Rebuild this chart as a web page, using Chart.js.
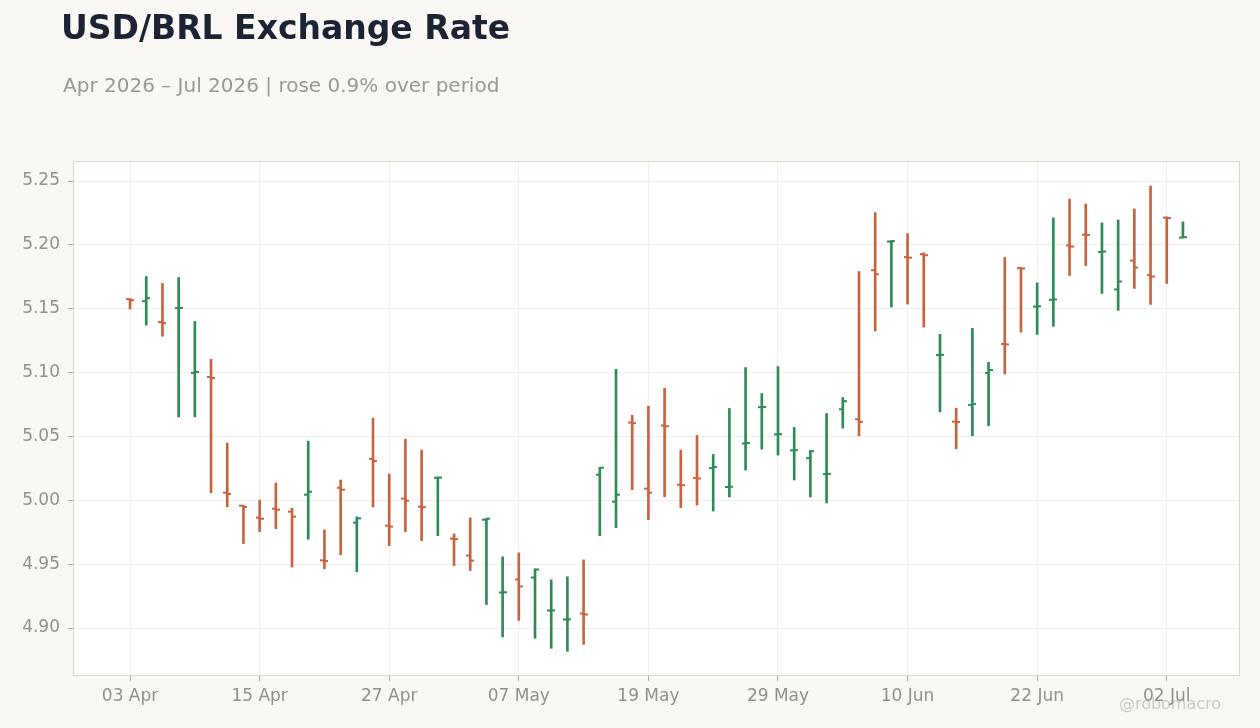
<!DOCTYPE html>
<html>
<head>
<meta charset="utf-8">
<script src="https://cdn.jsdelivr.net/npm/chart.js@4.4.1/dist/chart.umd.min.js"></script>
<style>
  html, body { margin:0; padding:0; background:#f9f8f5; }
  #wrap { position:relative; width:1260px; height:728px; overflow:hidden; background:#f9f8f5; font-family:"DejaVu Sans", sans-serif; }
  #title { position:absolute; left:61px; top:11px; font-size:33px; line-height:33px; font-weight:bold; color:#1c2434; white-space:nowrap; }
  #subtitle { position:absolute; left:63px; top:75px; font-size:20px; line-height:20px; color:#9b9792; white-space:nowrap; }
  #wm { position:absolute; left:1070px; width:200px; top:696px; font-size:16px; line-height:16px; text-align:center; color:rgba(160,156,150,0.5); white-space:nowrap; }
  canvas { position:absolute; left:0; top:0; }
</style>
</head>
<body>
<div id="wrap">
  <canvas id="c" width="1260" height="728"></canvas>
  <div id="title">USD/BRL Exchange Rate</div>
  <div id="subtitle">Apr 2026 – Jul 2026 | rose 0.9% over period</div>
  <div id="wm">@robomacro</div>
</div>
<script>
// ---- data ----
const dates = [
  "03 Apr","06 Apr","07 Apr","08 Apr","09 Apr","10 Apr","13 Apr","14 Apr","15 Apr","16 Apr","17 Apr",
  "20 Apr","21 Apr","22 Apr","23 Apr","24 Apr","27 Apr","28 Apr","29 Apr","30 Apr","01 May",
  "04 May","05 May","06 May","07 May","08 May","11 May","12 May","13 May","14 May","15 May",
  "18 May","19 May","20 May","21 May","22 May","25 May","26 May","27 May","28 May","29 May",
  "01 Jun","02 Jun","03 Jun","04 Jun","05 Jun","08 Jun","09 Jun","10 Jun","11 Jun","12 Jun",
  "15 Jun","16 Jun","17 Jun","18 Jun","19 Jun","22 Jun","23 Jun","24 Jun","25 Jun","26 Jun",
  "29 Jun","30 Jun","01 Jul","02 Jul","03 Jul"
];
const opens = [
  5.1575,5.1559,5.1395,5.1505,5.0997,5.0966,5.0059,4.9958,4.9864,4.9934,4.9911,
  5.0044,4.9530,5.0098,4.9825,5.0325,4.9802,5.0013,4.9950,5.0176,4.9700,
  4.9567,4.9848,4.9278,4.9380,4.9395,4.9137,4.9067,4.9114,5.0200,4.9989,
  5.0609,5.0091,5.0586,5.0122,5.0175,5.0252,5.0104,5.0445,5.0729,5.0516,
  5.0391,5.0330,5.0205,5.0713,5.0635,5.1802,5.2026,5.1904,5.1927,5.1137,
  5.0616,5.0747,5.0997,5.1224,5.1818,5.1517,5.1570,5.1995,5.2080,5.1945,
  5.1651,5.1877,5.1763,5.2213,5.2057
];
const highs = [
  5.1580,5.1752,5.1698,5.1745,5.1401,5.1104,5.0448,4.9961,5.0002,5.0135,4.9938,
  5.0463,4.9768,5.0159,4.9870,5.0643,5.0205,5.0479,5.0393,5.0182,4.9737,
  4.9862,4.9859,4.9557,4.9588,4.9463,4.9377,4.9401,4.9534,5.0258,5.1026,
  5.0666,5.0737,5.0877,5.0393,5.0508,5.0359,5.0719,5.1039,5.0836,5.1047,
  5.0570,5.0391,5.0680,5.0805,5.1791,5.2252,5.2034,5.2088,5.1938,5.1299,
  5.0721,5.1346,5.1080,5.1901,5.1823,5.1703,5.2211,5.2359,5.2320,5.2172,
  5.2195,5.2281,5.2461,5.2219,5.2180
];
const lows = [
  5.1497,5.1372,5.1284,5.0653,5.0653,5.0059,4.9950,4.9661,4.9755,4.9778,4.9477,
  4.9695,4.9463,4.9573,4.9440,4.9948,4.9645,4.9755,4.9684,4.9723,4.9489,
  4.9450,4.9184,4.8930,4.9059,4.8919,4.8841,4.8817,4.8872,4.9723,4.9786,
  5.0083,4.9848,5.0028,4.9942,4.9963,4.9916,5.0026,5.0237,5.0401,5.0354,
  5.0159,5.0026,4.9979,5.0565,5.0505,5.1325,5.1513,5.1536,5.1356,5.0692,
  5.0403,5.0505,5.0583,5.0989,5.1317,5.1299,5.1362,5.1760,5.1838,5.1620,
  5.1487,5.1659,5.1534,5.1698,5.2057
];
const closes = [
  5.1567,5.1583,5.1387,5.1507,5.1005,5.0958,5.0049,4.9948,4.9856,4.9927,4.9872,
  5.0067,4.9525,5.0083,4.9859,5.0307,4.9794,4.9997,4.9946,5.0178,4.9696,
  4.9528,4.9856,4.9280,4.9325,4.9458,4.9138,4.9068,4.9106,5.0255,5.0044,
  5.0604,5.0059,5.0580,5.0118,5.0171,5.0260,5.0106,5.0448,5.0731,5.0518,
  5.0393,5.0385,5.0207,5.0776,5.0614,5.1770,5.2029,5.1900,5.1919,5.1139,
  5.0613,5.0755,5.1020,5.1221,5.1815,5.1519,5.1573,5.1987,5.2077,5.1948,
  5.1713,5.1823,5.1752,5.2210,5.2060
];
const xTickIdx = [0, 8, 16, 24, 32, 40, 48, 56, 64];
const yTicks = [4.90, 4.95, 5.00, 5.05, 5.10, 5.15, 5.20, 5.25];

// ---- styles ----
const UP = '#2e8b57';
const DOWN = '#c9633f';
const colors = opens.map((o, i) => closes[i] >= o ? UP : DOWN);

const ohlcTicks = {
  id: 'ohlcTicks',
  beforeDraw(chart) {
    const a = chart.chartArea, ctx = chart.ctx;
    ctx.save();
    ctx.fillStyle = '#ffffff';
    ctx.fillRect(a.left, a.top, a.right - a.left, a.bottom - a.top);
    ctx.restore();
  },
  afterDatasetsDraw(chart) {
    const ctx = chart.ctx;
    const y = chart.scales.y;
    const meta = chart.getDatasetMeta(0);
    ctx.save();
    meta.data.forEach((el, i) => {
      const cx = Math.round(el.x);
      ctx.fillStyle = colors[i];
      const yo = y.getPixelForValue(opens[i]);
      const yc = y.getPixelForValue(closes[i]);
      ctx.fillRect(cx - 4, yo - 1, 4, 2);
      ctx.fillRect(cx, yc - 1, 4, 2);
    });
    ctx.restore();
  },
  afterDraw(chart) {
    const a = chart.chartArea, ctx = chart.ctx;
    ctx.save();
    ctx.strokeStyle = '#ddd6cd';
    ctx.lineWidth = 1;
    ctx.strokeRect(a.left - 0.5, a.top - 0.5, a.right - a.left + 1, a.bottom - a.top + 1);
    ctx.restore();
  }
};

new Chart(document.getElementById('c'), {
  type: 'bar',
  data: {
    datasets: [{
      data: dates.map((d, i) => ({ x: i, y: [lows[i], highs[i]] })),
      backgroundColor: colors,
      borderWidth: 0,
      barThickness: 2
    }]
  },
  options: {
    responsive: false,
    animation: false,
    devicePixelRatio: 1,
    layout: { padding: { top: 162, right: 21, bottom: 0, left: 0 } },
    plugins: { legend: { display: false }, tooltip: { enabled: false } },
    scales: {
      x: {
        type: 'linear',
        min: -3.46,
        max: 68.46,
        offset: false,
        afterBuildTicks: s => { s.ticks = xTickIdx.map(v => ({ value: v })); },
        afterFit: s => { s.height = 53; },
        ticks: {
          autoSkip: false,
          maxRotation: 0,
          padding: 5,
          color: '#938f8a',
          font: { family: 'DejaVu Sans', size: 17 },
          callback: v => dates[v]
        },
        grid: { color: '#f0efed', offset: false, tickLength: 6, tickColor: '#a9a49e', drawTicks: true },
        border: { display: false }
      },
      y: {
        min: 4.8632,
        max: 5.2649,
        beginAtZero: false,
        afterBuildTicks: s => { s.ticks = yTicks.map(v => ({ value: v })); },
        afterFit: s => { s.width = 74; },
        ticks: {
          padding: 8,
          color: '#938f8a',
          font: { family: 'DejaVu Sans', size: 17 },
          callback: v => v.toFixed(2)
        },
        grid: { color: '#f0efed', tickLength: 6, tickColor: '#a9a49e' },
        border: { display: false }
      }
    }
  },
  plugins: [ohlcTicks]
});
</script>
</body>
</html>
